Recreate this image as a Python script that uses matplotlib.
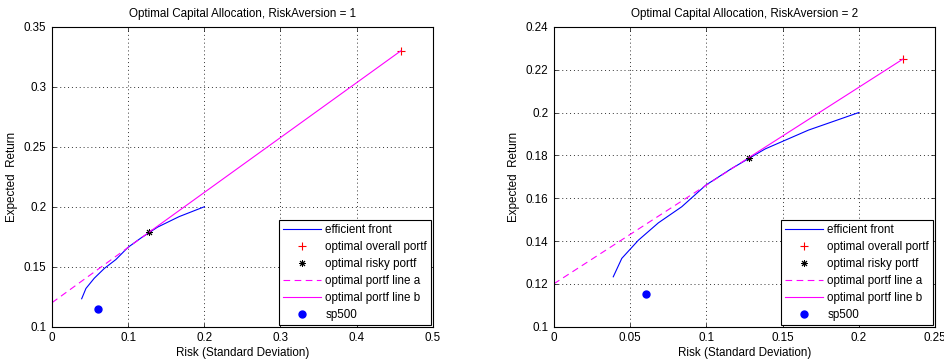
import numpy as np
import matplotlib
matplotlib.use('Agg')
import matplotlib.pyplot as plt

plt.rcParams['font.family'] = ['Liberation Sans', 'DejaVu Sans']
plt.rcParams['font.size'] = 8.4

# efficient frontier (risk, return)
front_risk = [0.039, 0.0446, 0.0555, 0.0686, 0.0839, 0.0997, 0.1167, 0.128, 0.1386, 0.167, 0.2]
front_ret = [0.1233, 0.1319, 0.1404, 0.1485, 0.156, 0.1661, 0.1739, 0.1786, 0.183, 0.1918, 0.2]

# risk free rate and optimal risky portfolio
rf = 0.12
risky_risk, risky_ret = 0.128, 0.179

# optimal overall portfolio for each risk aversion
aversions = [1, 2]
overall_risk = [0.458, 0.2288]
overall_ret = [0.33, 0.2249]

# S&P 500 point
sp_risk, sp_ret = 0.0603, 0.1151

xlims = [(0, 0.5), (0, 0.25)]
ylims = [(0.1, 0.35), (0.1, 0.24)]
xticks = [[0, 0.1, 0.2, 0.3, 0.4, 0.5], [0, 0.05, 0.1, 0.15, 0.2, 0.25]]
yticks = [[0.1, 0.15, 0.2, 0.25, 0.3, 0.35], [0.1, 0.12, 0.14, 0.16, 0.18, 0.2, 0.22, 0.24]]

fig = plt.figure(figsize=(9.45, 3.63), dpi=100)
positions = [[0.055, 0.1, 0.403, 0.826], [0.586, 0.1, 0.4035, 0.826]]

for i in range(2):
    ax = fig.add_axes(positions[i])
    ax.plot(front_risk, front_ret, color='#0000ff', lw=0.8, label='efficient front')
    ax.plot(overall_risk[i], overall_ret[i], '+', color='#ff0000', ms=6, mew=0.8,
            label='optimal overall portf')
    ax.plot(risky_risk, risky_ret, marker=(8, 2, 0), ls='none', color='black', ms=5, mew=0.7,
            label='optimal risky portf')
    ax.plot([0, risky_risk], [rf, risky_ret], color='#ff00ff', lw=0.8,
            dashes=(6, 4), label='optimal portf line a')
    ax.plot([risky_risk, overall_risk[i]], [risky_ret, overall_ret[i]], color='#ff00ff',
            lw=0.8, label='optimal portf line b')
    ax.plot(sp_risk, sp_ret, 'o', color='#0000ff', ms=5, label='sp500')

    ax.set_xlim(xlims[i])
    ax.set_ylim(ylims[i])
    ax.set_xticks(xticks[i])
    ax.set_yticks(yticks[i])
    ax.set_xticklabels([('%g' % v) for v in xticks[i]])
    ax.set_yticklabels([('%g' % v) for v in yticks[i]])
    ax.tick_params(direction='in', top=True, right=True, length=3, width=0.5, pad=4)
    ax.grid(True, linestyle=(0, (1, 3)), color='#333333', lw=0.7)
    for s in ax.spines.values():
        s.set_linewidth(0.8)
    ax.set_title('Optimal Capital Allocation, RiskAversion = %d' % aversions[i], fontsize=8.4, pad=7)
    ax.set_xlabel('Risk (Standard Deviation)', labelpad=2)
    ax.set_ylabel('Expected  Return', labelpad=4)
    leg = ax.legend(loc='lower right', fontsize=8.4, fancybox=False, framealpha=1,
                    edgecolor='black', handlelength=3.2, labelspacing=0.42,
                    borderaxespad=0.15, borderpad=0.35, handletextpad=0.4)
    leg.get_frame().set_linewidth(0.8)

fig.savefig('out.png', dpi=100)
